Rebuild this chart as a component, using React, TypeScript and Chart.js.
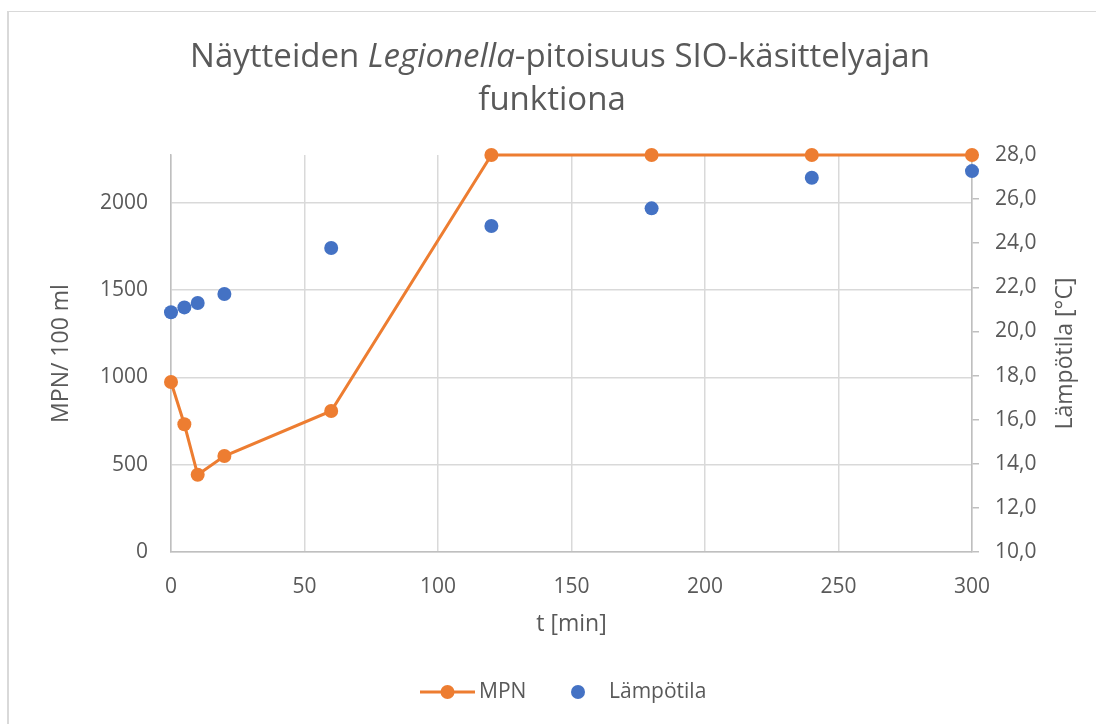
import React, { useEffect, useRef } from 'react';
import { Chart, registerables } from 'chart.js';

Chart.register(...registerables);

const times = [0, 5, 10, 20, 60, 120, 180, 240, 300];
const mpnValues = [973, 731, 442, 549, 807, 2272, 2272, 2272, 2272];
const tempValues = [20.87, 21.09, 21.29, 21.7, 23.78, 24.78, 25.58, 26.97, 27.27];
const xTickValues = [0, 50, 100, 150, 200, 250, 300];
const leftTickValues = [0, 500, 1000, 1500, 2000];
const rightTickValues = [10, 12, 14, 16, 18, 20, 22, 24, 26, 28];
const titleLine1 = [
  { text: 'Näytteiden ', italic: false },
  { text: 'Legionella', italic: true },
  { text: '-pitoisuus SIO-käsittelyajan', italic: false },
];
const titleLine2 = 'funktiona';
const seriesNames = ['MPN', 'Lämpötila'];
const xTitle = 't [min]';
const leftTitle = 'MPN/ 100 ml';
const rightTitle = 'Lämpötila [°C]';

const ORANGE = '#ED7D31';
const BLUE = '#4472C4';
const TEXT = '#595959';
const FONT = '"Open Sans", sans-serif';

const titlePlugin = {
  id: 'customTitle',
  afterDraw(chart: any) {
    const ctx = chart.ctx;
    ctx.save();
    ctx.fillStyle = TEXT;
    ctx.textBaseline = 'alphabetic';
    ctx.textAlign = 'left';
    const size = 33;
    const fontFor = (it: boolean) => `${it ? 'italic ' : ''}${size}px ${FONT}`;
    let total = 0;
    for (const p of titleLine1) {
      ctx.font = fontFor(p.italic);
      total += ctx.measureText(p.text).width;
    }
    let x = 560 - total / 2;
    for (const p of titleLine1) {
      ctx.font = fontFor(p.italic);
      ctx.fillText(p.text, x, 67);
      x += ctx.measureText(p.text).width;
    }
    ctx.font = fontFor(false);
    ctx.textAlign = 'center';
    ctx.fillText(titleLine2, 552, 110);

    // right axis title, reading bottom-to-top
    const ca = chart.chartArea;
    ctx.translate(1065, (ca.top + ca.bottom) / 2);
    ctx.rotate(-Math.PI / 2);
    ctx.font = `23px ${FONT}`;
    ctx.textAlign = 'center';
    ctx.textBaseline = 'middle';
    ctx.fillText(rightTitle, 0, 0);
    ctx.restore();
  },
};

const legendPlugin = {
  id: 'customLegend',
  afterDraw(chart: any) {
    const ctx = chart.ctx;
    const y = 692;
    ctx.save();
    ctx.strokeStyle = ORANGE;
    ctx.lineWidth = 3;
    ctx.beginPath();
    ctx.moveTo(420, y);
    ctx.lineTo(475, y);
    ctx.stroke();
    ctx.fillStyle = ORANGE;
    ctx.beginPath();
    ctx.arc(447.5, y, 7, 0, Math.PI * 2);
    ctx.fill();
    ctx.fillStyle = BLUE;
    ctx.beginPath();
    ctx.arc(578, y, 7, 0, Math.PI * 2);
    ctx.fill();
    ctx.fillStyle = TEXT;
    ctx.font = `21px ${FONT}`;
    ctx.textBaseline = 'middle';
    ctx.textAlign = 'left';
    ctx.fillText(seriesNames[0], 479, y);
    ctx.fillText(seriesNames[1], 609, y);
    ctx.restore();
  },
};

export default function App() {
  const ref = useRef<HTMLCanvasElement | null>(null);

  useEffect(() => {
    if (!ref.current) return;
    const chart = new Chart(ref.current, {
      type: 'line',
      data: {
        datasets: [
          {
            label: seriesNames[0],
            data: times.map((t, i) => ({ x: t, y: mpnValues[i] })),
            borderColor: ORANGE,
            backgroundColor: ORANGE,
            borderWidth: 3,
            pointRadius: 7,
            pointBorderWidth: 0,
            pointBackgroundColor: ORANGE,
            yAxisID: 'y',
            clip: false as any,
            tension: 0,
          },
          {
            label: seriesNames[1],
            data: times.map((t, i) => ({ x: t, y: tempValues[i] })),
            borderColor: BLUE,
            backgroundColor: BLUE,
            showLine: false,
            pointRadius: 7,
            pointBorderWidth: 0,
            pointBackgroundColor: BLUE,
            yAxisID: 'y2',
            clip: false as any,
          },
        ],
      },
      options: {
        responsive: false,
        animation: false,
        devicePixelRatio: 1,
        layout: { padding: { top: 155, left: 0, right: 0, bottom: 72 } },
        plugins: {
          legend: { display: false },
          title: { display: false },
          tooltip: { enabled: false },
        },
        scales: {
          x: {
            type: 'linear',
            min: 0,
            max: 300,
            afterBuildTicks: (s: any) => {
              s.ticks = xTickValues.map((v) => ({ value: v }));
            },
            afterFit: (s: any) => {
              s.height = 100;
            },
            grid: { color: '#d9d9d9', lineWidth: 1.5, drawTicks: false },
            border: { display: true, color: '#bfbfbf', width: 1.5 },
            ticks: {
              color: TEXT,
              font: { family: FONT, size: 21 },
              padding: 22,
              maxRotation: 0,
              callback: (v: any) => String(v),
            },
            title: {
              display: true,
              text: xTitle,
              color: TEXT,
              font: { family: FONT, size: 23 },
              padding: { top: 0, bottom: 14 },
            },
          },
          y: {
            type: 'linear',
            position: 'left',
            min: 0,
            max: 2272,
            afterBuildTicks: (s: any) => {
              s.ticks = leftTickValues.map((v) => ({ value: v }));
            },
            afterFit: (s: any) => {
              s.width = 171;
            },
            grid: { color: '#d9d9d9', lineWidth: 1.5, drawTicks: false },
            border: { display: true, color: '#bfbfbf', width: 1.5 },
            ticks: {
              color: TEXT,
              font: { family: FONT, size: 21 },
              padding: 23,
              callback: (v: any) => String(v),
            },
            title: {
              display: true,
              text: leftTitle,
              color: TEXT,
              font: { family: FONT, size: 23 },
              padding: { top: 48, bottom: 0 },
            },
          },
          y2: {
            type: 'linear',
            position: 'right',
            min: 10,
            max: 28,
            afterBuildTicks: (s: any) => {
              s.ticks = rightTickValues.map((v) => ({ value: v }));
            },
            afterFit: (s: any) => {
              s.width = 124;
            },
            grid: { drawOnChartArea: false, color: '#bfbfbf', lineWidth: 1.5, drawTicks: true, tickLength: 7 },
            border: { display: true, color: '#bfbfbf', width: 1.5 },
            ticks: {
              color: TEXT,
              font: { family: FONT, size: 21 },
              padding: 16,
              callback: (v: any) => Number(v).toFixed(1).replace('.', ','),
            },
            title: { display: false },
          },
        },
      },
      plugins: [titlePlugin, legendPlugin],
    });
    return () => chart.destroy();
  }, []);

  return (
    <div
      style={{
        position: 'fixed',
        left: 0,
        top: 0,
        width: 1096,
        height: 724,
        overflow: 'hidden',
        background: '#ffffff',
      }}
    >
      <div
        style={{
          position: 'absolute',
          left: 7,
          top: 11,
          width: 1200,
          height: 800,
          border: '1px solid #d9d9d9',
          borderLeftWidth: 2,
          boxSizing: 'border-box',
        }}
      />
      <canvas ref={ref} width={1096} height={724} style={{ position: 'absolute', left: 0, top: 0 }} />
    </div>
  );
}
